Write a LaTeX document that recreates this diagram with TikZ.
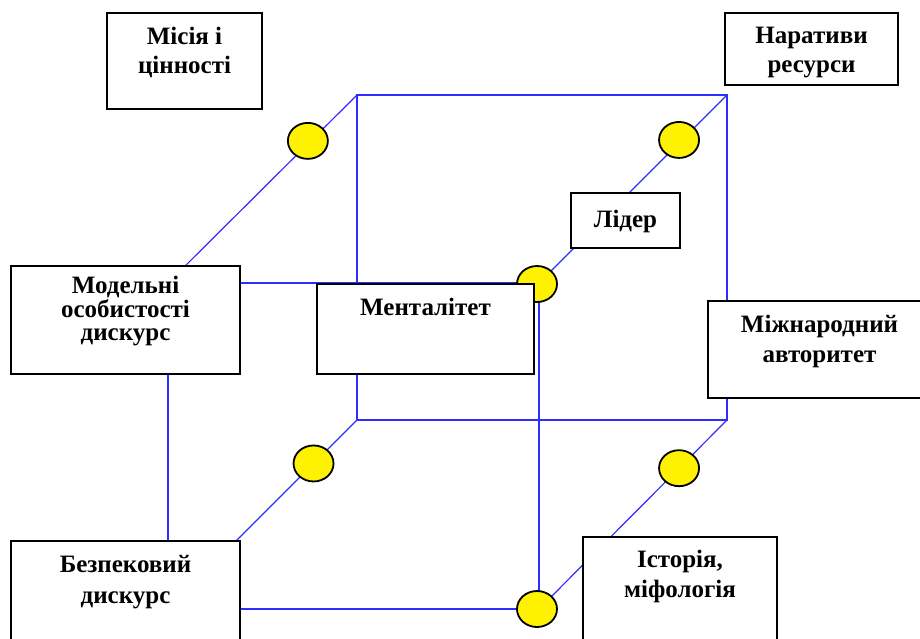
\documentclass[tikz,border=0pt]{standalone}
\usepackage{fontspec}
\setmainfont{Liberation Serif}
\usetikzlibrary{calc,positioning,shapes.geometric}

\definecolor{kubblue}{RGB}{45,45,255}

\tikzset{
  rebro/.style={draw=kubblue, line width=1.2pt},
  kulya/.style={ellipse, draw, line width=1.8pt, fill=yellow,
    minimum width=40pt, minimum height=36pt, inner sep=0pt},
  blok/.style={draw, line width=2pt, fill=white, anchor=north west, inner sep=0pt},
  napys/.style={font=\fontsize{25pt}{29pt}\selectfont\bfseries, align=center, inner sep=0pt}
}

\begin{document}
\begin{tikzpicture}[x=1pt, y=-1pt]
  \useasboundingbox (0,0) rectangle (920,639);
  \clip (0,0) rectangle (920,639);

  % Coordinates
  \coordinate (B1) at (357, 95);
  \coordinate (B2) at (727, 95);
  \coordinate (B3) at (727, 420);
  \coordinate (B4) at (357, 420);
  \coordinate (F1) at (168, 283);
  \coordinate (F2) at (539, 283);
  \coordinate (F3) at (539, 609);
  \coordinate (F4) at (168, 609);

  % Cube
  \draw[rebro] (B1) -- (B2) -- (B3) -- (B4) -- cycle;
  \draw[rebro] (F1) -- (F2) -- (F3) -- (F4) -- cycle;
  \draw[rebro] (B1) -- (F1);
  \draw[rebro] (B2) -- (F2);
  \draw[rebro] (B3) -- (F3);
  \draw[rebro] (B4) -- (F4);

  % Balls
  \node[kulya] (k1) at ($(B1)!0.26!(F1)+(0,-3)$) {};
  \node[kulya] (k2) at ($(B2)!0.255!(F2)+(0,-3)$) {};
  \node[kulya] (k3) at ($(B4)!0.23!(F4)$) {};
  \node[kulya] (k4) at ($(B3)!0.255!(F3)$) {};
  \node[kulya] (k5) at ($(F2)+(-2,1)$) {};
  \node[kulya] (k6) at ($(F3)+(-2,0)$) {};

  % Boxes
  \node[blok, minimum width=155pt, minimum height=96pt] (misia) at (106,12) {};
  \node[napys, below=15pt of misia.north] (misiaT) {Місія і\\цінності};

  \node[blok, minimum width=173pt, minimum height=72pt] (naratyvy) at (724,12) {};
  \node[napys, below=15pt of naratyvy.north] (naratyvyT) {Наративи\\ресурси};

  \node[blok, minimum width=229pt, minimum height=108pt] (modelni) at (10,265) {};
  \node[napys, font=\fontsize{25pt}{23.5pt}\selectfont\bfseries,
    below=11pt of modelni.north] (modelniT) {Модельні\\особистості\\дискурс};

  \node[blok, minimum width=217pt, minimum height=90pt] (mental) at (316,283) {};
  \node[napys, below=15pt of mental.north] (mentalT) {Менталітет};

  \node[blok, minimum width=109pt, minimum height=55pt] (lider) at (570,192) {};
  \node[napys, below=18pt of lider.north] (liderT) {Лідер};

  \node[blok, minimum width=223pt, minimum height=97pt] (mizhnar) at (707,300) {};
  \node[napys, font=\fontsize{25pt}{30pt}\selectfont\bfseries,
    below=15pt of mizhnar.north] (mizhnarT) {Міжнародний\\авторитет};

  \node[blok, minimum width=229pt, minimum height=120pt] (bezpeka) at (10,540) {};
  \node[napys, font=\fontsize{25pt}{31pt}\selectfont\bfseries,
    below=15pt of bezpeka.north] (bezpekaT) {Безпековий\\дискурс};

  \node[blok, minimum width=194pt, minimum height=124pt] (istoria) at (582,536) {};
  \node[napys, font=\fontsize{25pt}{30pt}\selectfont\bfseries,
    below=14pt of istoria.north] (istoriaT) {Історія,\\міфологія};
\end{tikzpicture}
\end{document}
